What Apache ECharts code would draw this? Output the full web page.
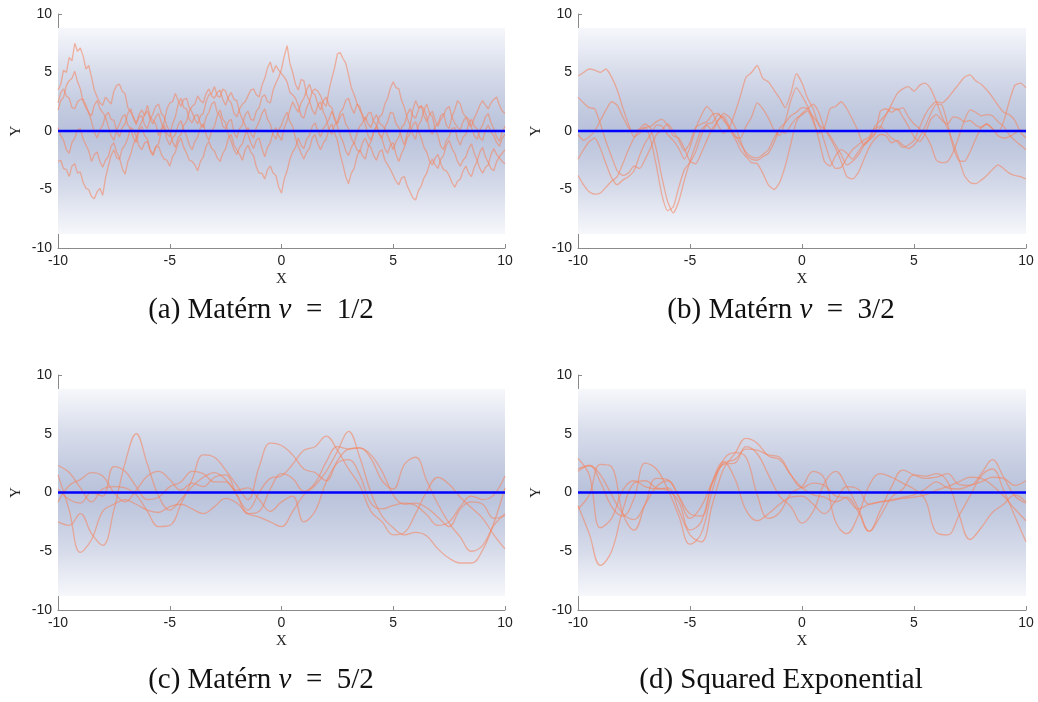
<!DOCTYPE html>
<html>
<head>
<meta charset="utf-8">
<script src="https://cdn.jsdelivr.net/npm/echarts@6/dist/echarts.min.js"></script>
<style>html,body{margin:0;padding:0;background:#fff}#c{width:1038px;height:702px}</style>
</head>
<body>
<div id="c"></div>
<script>
// ---------- data ----------
const X_TICKS = [-10, -5, 0, 5, 10];
const Y_TICKS = [-10, -5, 0, 5, 10];
const CAPTIONS = ['(a) Matérn {i|ν}\u2002=\u20021/2', '(b) Matérn {i|ν}\u2002=\u20023/2', '(c) Matérn {i|ν}\u2002=\u20025/2', '(d) Squared Exponential'];
const MEAN_X = [-10, 10];
const MEAN_Y = [0, 0];
const BAND_HI = 8.8;
const BAND_LO = -8.8;

const X_A = [
  -10,-9.875,-9.75,-9.625,-9.5,-9.375,-9.25,-9.125,-9,-8.875,-8.75,-8.625,-8.5,-8.375,-8.25,-8.125,
  -8,-7.875,-7.75,-7.625,-7.5,-7.375,-7.25,-7.125,-7,-6.875,-6.75,-6.625,-6.5,-6.375,-6.25,-6.125,
  -6,-5.875,-5.75,-5.625,-5.5,-5.375,-5.25,-5.125,-5,-4.875,-4.75,-4.625,-4.5,-4.375,-4.25,-4.125,
  -4,-3.875,-3.75,-3.625,-3.5,-3.375,-3.25,-3.125,-3,-2.875,-2.75,-2.625,-2.5,-2.375,-2.25,-2.125,
  -2,-1.875,-1.75,-1.625,-1.5,-1.375,-1.25,-1.125,-1,-0.875,-0.75,-0.625,-0.5,-0.375,-0.25,-0.125,
  0,0.125,0.25,0.375,0.5,0.625,0.75,0.875,1,1.125,1.25,1.375,1.5,1.625,1.75,1.875,
  2,2.125,2.25,2.375,2.5,2.625,2.75,2.875,3,3.125,3.25,3.375,3.5,3.625,3.75,3.875,
  4,4.125,4.25,4.375,4.5,4.625,4.75,4.875,5,5.125,5.25,5.375,5.5,5.625,5.75,5.875,
  6,6.125,6.25,6.375,6.5,6.625,6.75,6.875,7,7.125,7.25,7.375,7.5,7.625,7.75,7.875,
  8,8.125,8.25,8.375,8.5,8.625,8.75,8.875,9,9.125,9.25,9.375,9.5,9.625,9.75,9.875,
  10];
const X_FINE = [
  -10,-9.75,-9.5,-9.25,-9,-8.75,-8.5,-8.25,
  -8,-7.75,-7.5,-7.25,-7,-6.75,-6.5,-6.25,
  -6,-5.75,-5.5,-5.25,-5,-4.75,-4.5,-4.25,
  -4,-3.75,-3.5,-3.25,-3,-2.75,-2.5,-2.25,
  -2,-1.75,-1.5,-1.25,-1,-0.75,-0.5,-0.25,
  0,0.25,0.5,0.75,1,1.25,1.5,1.75,
  2,2.25,2.5,2.75,3,3.25,3.5,3.75,
  4,4.25,4.5,4.75,5,5.25,5.5,5.75,
  6,6.25,6.5,6.75,7,7.25,7.5,7.75,
  8,8.25,8.5,8.75,9,9.25,9.5,9.75,
  10];
const X_COARSE = [
  -10,-9.5,-9,-8.5,-8,-7.5,-7,-6.5,-6,-5.5,
  -5,-4.5,-4,-3.5,-3,-2.5,-2,-1.5,-1,-0.5,
  0,0.5,1,1.5,2,2.5,3,3.5,4,4.5,
  5,5.5,6,6.5,7,7.5,8,8.5,9,9.5,
  10];

// (a) Matern 1/2 samples
const A1 = [
  3.5,4.0,5.2,5.0,6.3,6.0,7.5,6.8,7.1,6.4,5.3,5.6,4.6,3.5,2.9,2.4,
  2.2,2.9,2.6,2.3,3.4,3.9,4.0,3.4,3.2,2.0,1.6,1.2,0.5,1.4,1.8,1.3,
  2.2,1.2,0.9,0.6,-0.4,0.2,0.8,1.9,2.4,2.5,3.2,2.6,2.1,2.7,2.8,2.0,
  1.6,1.0,0.6,1.3,1.5,2.5,3.1,3.2,3.8,3.0,2.9,3.6,3.4,2.7,2.4,1.5,
  1.2,1.9,2.3,2.5,3.0,3.5,3.6,3.1,2.9,3.9,4.5,5.4,5.9,5.0,5.6,5.2,
  4.9,4.6,4.2,3.3,3.1,2.8,2.2,1.3,1.1,2.0,2.5,3.4,3.6,3.4,3.0,2.4,
  2.1,3.5,4.5,5.4,6.6,6.7,6.2,5.8,4.8,3.7,3.1,2.4,1.8,1.4,0.9,1.5,
  1.6,0.8,0.5,-0.2,-0.6,0.3,0.8,1.6,1.5,0.6,0.3,-0.6,-1.2,-0.2,0.4,1.8,
  2.6,2.0,2.1,1.9,1.2,0.1,-0.3,0.4,0.6,1.3,1.5,0.5,0.2,1.2,1.8,2.6,
  2.3,1.5,1.2,1.0,0.4,1.1,1.6,2.2,2.6,2.2,1.9,2.4,2.7,2.9,2.2,1.7,
  1.5];
const A2 = [
  2.4,3.3,3.6,3.0,2.8,2.0,1.9,2.5,2.7,2.7,2.2,1.5,1.3,2.2,2.6,1.9,
  1.6,1.2,0.4,-0.4,-0.8,0.1,0.6,1.2,1.4,0.5,0.2,-0.6,-1.0,0.0,0.4,-0.4,
  -0.7,-1.6,-2.0,-1.3,-1.1,0.0,0.5,-0.2,-0.5,0.6,1.2,2.3,2.8,2.0,1.9,1.0,
  0.7,1.3,1.4,0.6,0.3,1.2,1.6,2.3,2.5,1.6,1.3,0.4,0.2,0.8,1.0,-0.1,
  -0.6,0.2,0.5,1.4,1.7,1.0,0.9,1.7,2.0,2.9,3.1,2.5,2.4,3.5,4.1,4.6,
  5.3,6.4,7.3,5.8,5.0,4.0,3.5,4.4,4.3,3.1,2.6,1.8,1.4,2.2,2.5,1.6,
  1.1,0.1,-0.3,0.5,0.8,1.6,1.9,2.6,2.8,2.0,1.5,2.3,2.1,1.2,0.6,-0.4,
  -0.8,-0.1,0.4,1.2,1.4,2.3,2.8,3.7,4.2,3.7,3.6,2.6,2.0,1.1,0.5,-0.3,
  -0.7,0.5,0.9,1.8,2.3,1.5,1.2,0.2,-0.4,-1.3,-1.6,-0.8,-0.5,0.2,0.3,-0.7,
  -1.2,-0.5,-0.3,0.6,1.0,0.4,0.2,-0.6,-0.8,0.1,0.5,-0.1,-0.4,-1.0,-1.3,-0.6,
  -0.3];
const A3 = [
  -2.6,-2.5,-3.2,-3.3,-3.9,-3.0,-2.8,-3.6,-3.5,-4.4,-4.9,-5.0,-5.6,-5.8,-5.2,-4.9,
  -5.5,-4.0,-3.0,-2.1,-1.6,-2.3,-2.4,-1.5,-1.2,-0.6,0.3,0.1,-0.5,-1.3,-1.6,-1.0,
  -0.9,-1.7,-2.1,-1.4,-1.3,-2.0,-2.4,-2.5,-3.0,-2.2,-1.8,-1.0,-0.6,-1.4,-1.9,-2.5,
  -2.6,-2.9,-3.4,-2.6,-2.2,-1.3,-0.9,-1.5,-1.7,-2.3,-2.6,-1.9,-1.5,-0.6,-0.3,-1.2,
  -1.6,-2.0,-2.5,-1.6,-1.2,-1.8,-2.1,-3.1,-3.6,-3.6,-4.1,-3.3,-3.0,-3.6,-3.8,-4.8,
  -5.3,-4.1,-3.4,-2.4,-1.8,-1.4,-0.6,-1.2,-1.5,-0.7,-0.4,0.4,0.7,0.0,-0.5,0.2,
  0.6,1.0,1.7,1.0,0.4,-0.4,-0.9,-1.7,-2.1,-1.4,-1.0,-1.6,-1.8,-1.0,-0.6,-1.2,
  -1.4,-2.1,-2.5,-1.8,-1.6,-2.5,-2.9,-3.3,-3.8,-4.3,-4.6,-4.0,-3.9,-4.7,-5.2,-5.7,
  -5.9,-5.1,-4.7,-4.0,-3.6,-2.8,-2.4,-2.9,-3.2,-2.4,-2.1,-1.2,-0.8,-1.5,-1.9,-2.6,
  -3.0,-2.5,-2.2,-1.5,-1.1,-1.9,-2.5,-3.2,-3.6,-3.1,-2.9,-2.0,-1.5,-2.0,-2.3,-2.6,
  -2.8];
const A4 = [
  0.3,-0.4,-0.8,-1.6,-1.9,-1.0,-0.6,0.1,0.2,-0.7,-1.2,-1.7,-2.6,-2.0,-1.8,-2.6,
  -3.1,-2.5,-2.2,-1.3,-1.0,-1.8,-2.3,-3.2,-3.7,-2.6,-2.0,-1.1,-0.6,0.3,0.8,1.4,
  1.7,1.0,0.6,1.2,1.5,0.7,0.2,-0.7,-1.2,-0.6,-0.3,0.5,0.9,0.1,-0.4,-1.2,
  -1.6,-0.9,-0.5,0.3,0.6,-0.3,-0.8,0.0,0.4,1.3,1.8,1.0,0.7,-0.3,-0.9,-1.6,
  -2.0,-1.4,-1.1,-0.3,0.3,-0.2,-0.6,0.3,0.8,1.5,1.9,1.0,0.6,-0.3,-0.7,0.1,
  0.5,1.2,1.6,0.8,0.4,-0.6,-1.3,-1.9,-2.4,-1.8,-1.5,-0.6,-0.3,-1.1,-1.6,-1.0,
  -0.7,0.2,0.6,-0.2,-0.8,-2.0,-2.9,-3.9,-4.5,-3.6,-3.2,-2.2,-1.6,-2.1,-2.4,-1.4,
  -0.9,-0.1,0.4,-0.3,-0.7,-1.5,-1.9,-1.2,-1.0,-2.0,-2.6,-1.9,-1.4,-0.6,-0.2,0.5,
  0.8,0.0,-0.6,-1.4,-1.8,-2.6,-2.9,-2.3,-2.0,-2.8,-3.3,-3.4,-3.8,-4.4,-4.8,-4.3,
  -4.1,-3.4,-3.0,-3.6,-3.9,-3.1,-2.6,-1.8,-1.4,-2.2,-2.7,-3.2,-3.4,-2.6,-2.2,-1.9,
  -1.6];
const A5 = [
  1.8,2.6,2.9,3.9,4.3,4.5,5.1,4.2,3.6,2.5,2.0,1.6,0.8,-0.1,-0.6,0.1,
  0.5,1.3,1.6,1.0,0.9,0.0,-0.5,0.3,0.6,1.5,1.9,1.1,0.7,1.2,1.3,0.5,
  0.2,1.0,1.5,2.1,2.3,1.5,1.2,0.4,0.0,-0.9,-1.4,-0.6,-0.3,0.5,0.8,1.7,
  2.1,2.3,3.0,2.6,2.4,3.2,3.6,3.0,2.8,3.3,3.5,2.7,2.2,2.9,3.3,2.7,
  2.6,1.6,1.0,0.5,-0.3,-1.0,-1.5,-0.8,-0.6,-1.5,-2.2,-1.4,-1.0,-0.1,0.3,-0.4,
  -0.8,0.3,0.9,1.8,2.5,2.0,1.6,2.4,2.8,3.5,4.0,3.3,3.1,2.3,1.8,2.6,
  2.9,2.2,2.0,1.1,0.6,1.2,1.5,0.6,0.2,-0.6,-1.1,-0.2,0.4,0.7,1.2,0.6,
  0.3,1.0,1.4,0.7,0.5,0.2,-0.4,-1.0,-1.6,-0.9,-0.5,0.3,0.6,1.4,1.9,1.3,
  1.1,1.8,2.2,1.3,0.8,1.4,1.7,0.9,0.4,1.0,1.3,1.9,2.1,1.2,0.7,0.3,
  0.1,0.8,1.2,0.6,0.3,-0.4,-0.7,0.1,0.5,1.2,1.5,0.7,0.2,-0.5,-0.9,-0.1,
  0.4];

// (b) Matern 3/2 samples
const B1 = [4.7,5.0,5.3,5.2,5.0,5.3,4.6,3.5, 2.0,0.6,-0.5,-0.2,0.3,0.4,0.8,1.0, 0.5,-0.4,-0.6,-1.5,-2.6,-2.8,-1.9,-0.8, 0.2,0.9,1.5,1.2,0.4,-0.8,-2.0,-2.4, -2.5,-2.2,-1.9,-1.0,0.2,0.7,1.3,1.6, 2.0,1.9,1.2,0.6,-0.9,-2.4,-3.2,-3.1, -2.3,-1.6,-1.2,-0.8,-0.5,0.4,0.9,1.4, 2.3,3.2,3.6,3.8,3.4,3.9,4.1,3.6, 2.5,1.2,0.2,-1.0,-2.4,-3.8,-4.4,-4.5, -4.2,-3.8,-3.3,-2.9,-3.2,-3.6,-3.8,-3.9, -4.1];
const B2 = [-2.4,-1.6,-0.9,-0.6,-1.5,-2.8,-4.0,-4.6, -4.2,-3.9,-3.4,-2.1,-1.0,-0.3,0.5,0.4, -0.3,-0.8,-1.5,-2.4,-1.4,0.2,1.3,2.1, 1.6,0.5,-0.2,0.3,1.5,3.0,4.6,5.0, 5.6,4.5,4.2,3.5,2.8,2.0,3.2,4.9, 4.1,2.8,1.9,0.5,0.2,-0.6,-1.5,-2.6, -3.9,-4.1,-3.6,-2.5,-1.4,-0.7,-0.3,-0.4, -1.0,-0.8,-1.2,-1.5,-1.2,-0.5,0.4,1.5, 2.3,2.2,0.6,-1.4,-2.5,-2.6,-1.8,-0.7, 0.3,0.6,0.2,-0.1,0.8,2.5,3.9,4.1, 3.7];
const B3 = [2.9,2.4,2.0,1.9,0.6,-0.9,-2.2,-3.4, -3.8,-3.6,-3.0,-3.2,-2.4,-1.4,-0.3,0.1, 0.6,0.0,-0.8,-1.7,-1.0,0.3,0.6,0.8, 1.4,1.5,0.9,0.3,-0.6,-1.6,-2.2,-2.7, -2.8,-3.6,-4.6,-5.0,-4.4,-3.0,-1.1,0.8, 1.5,1.9,2.3,1.6,0.2,-0.4,-1.2,-2.0, -2.9,-2.6,-2.1,-1.3,-0.7,-0.2,0.3,1.4, 2.0,1.8,2.0,1.2,0.6,0.2,-0.3,-1.2, -2.5,-2.7,-2.6,-1.8,-0.5,0.9,1.8,1.6, 1.3,1.4,1.3,0.8,0.4,-0.3,-0.8,-1.2, -1.6];
const B4 = [-3.8,-4.6,-5.2,-5.4,-5.3,-4.8,-4.3,-3.9, -2.8,-1.6,-0.6,0.1,0.3,-0.8,-3.0,-5.5, -6.8,-6.5,-4.8,-3.3,-2.7,-1.8,-0.4,0.6, 0.7,1.4,1.1,0.2,-0.5,-0.6,0.4,1.2, 2.4,1.9,1.1,0.1,-0.4,0.8,2.6,3.7, 3.0,2.1,1.0,-0.7,-2.6,-3.0,-2.1,-1.6, -1.9,-2.4,-1.8,-1.1,-0.7,0.2,0.4,-0.1, -0.6,-0.9,-1.4,-1.2,-0.8,0.3,1.4,2.1, 2.5,2.4,2.8,3.4,4.0,4.6,4.8,4.3, 4.0,3.5,2.9,2.2,1.6,1.4,0.9,-0.1, -0.6];
const B5 = [-0.3,-0.8,-0.5,0.0,0.9,1.8,2.5,2.2, 1.2,0.3,-0.1,0.2,0.6,0.2,-1.6,-4.0, -6.0,-7.0,-6.0,-4.2,-2.6,-1.2,0.1,0.5, 0.0,0.9,1.3,0.4,-0.3,-1.1,-1.8,-2.2, -2.3,-2.0,-1.6,-0.6,0.0,-0.2,0.5,1.1, 1.4,1.7,0.8,-0.2,0.3,1.9,2.1,2.5, 1.9,1.0,0.0,-1.2,-0.8,-0.3,1.7,1.9, 1.6,1.9,1.2,0.4,-0.5,-0.9,-0.2,1.0, 1.4,0.9,0.6,1.2,1.1,0.8,0.9,0.5, 0.3,0.6,0.2,-0.4,-0.6,-0.5,-0.2,0.1, -0.1];

// (c) Matern 5/2 samples
const C1 = [-2.5,-2.8,-1.8,-3.5,-4.5,-1.5,2.5,5.0,2.4,-0.3, -1.5,-0.6,0.5,1.3,1.7,1.1,-0.2,-1.8,-1.6,0.3, 1.6,1.2,0.1,0.8,2.6,3.9,3.7,3.8,3.2,1.8, -0.2,-1.0,-0.9,-1.3,-2.1,-2.9,-1.4,-0.8,-1.0,-2.2, -2.0];
const C2 = [1.5,-1.5,-5.1,-4.0,-1.6,-1.0,-0.6,-1.0,-1.5,-1.7, -1.2,-1.0,-1.4,-1.8,-1.2,-0.5,-0.9,-1.8,-2.1,-2.5, -2.9,-1.6,-0.2,0.6,1.8,3.5,5.2,3.0,0.0,-2.0, -3.0,-3.6,-3.4,-3.7,-4.8,-5.6,-6.0,-6.0,-4.9,-2.6, 0.4];
const C3 = [2.3,1.7,0.4,-0.8,0.3,0.5,0.4,-0.2,-1.6,-2.9, -2.8,-1.0,1.1,3.2,3.0,1.9,0.6,-0.6,2.2,4.2, 4.0,3.2,2.0,1.7,1.0,2.7,3.7,3.8,2.9,1.0, 0.3,2.4,3.0,1.0,-1.0,-2.6,-3.8,-5.0,-4.5,-2.8, -1.8];
const C4 = [-0.8,0.6,1.1,1.7,1.4,0.0,-0.8,0.2,1.4,1.8, 1.1,0.2,0.8,0.5,1.3,1.5,-0.2,-1.5,0.0,1.2, 1.4,2.4,3.6,3.9,4.8,3.6,2.0,0.6,-1.6,-2.5, -3.6,-3.4,-1.8,0.1,1.3,0.7,-0.4,-1.3,-2.2,-3.6, -4.8];
const C5 = [0.3,-0.6,-0.9,0.0,-0.3,2.2,1.8,0.5,-0.6,-0.4, 0.5,0.9,1.8,1.6,0.9,0.9,0.2,0.4,-0.6,-1.6, -0.8,-0.3,-2.5,-1.6,0.9,2.5,2.8,1.5,-0.9,-1.4, -1.1,-0.9,-1.1,-1.9,-2.8,-2.5,-1.2,-0.3,-0.6,-0.2, 1.4];

// (d) Squared exponential samples
const D1 = [-1.1,-3.5,-6.2,-5.0,-1.5,0.8,1.0,0.4,0.2,-0.8, -3.2,-2.5,0.9,2.6,1.2,-1.5,-2.4,-1.8,-1.0,-0.4, -0.3,-1.0,-1.8,-0.7,0.5,0.3,-1.0,-0.8,-0.6,-0.5, -0.4,-0.2,0.2,0.5,0.9,1.3,1.2,0.6,-0.3,-1.4, -2.4];
const D2 = [2.9,1.5,-3.0,-2.2,0.2,1.0,0.5,0.3,0.4,-1.5, -3.6,-4.2,-1.0,2.0,3.3,4.6,4.2,3.1,2.8,1.5, 0.4,0.8,0.6,-0.3,-0.5,-1.4,-1.0,-0.8,-0.7,-0.4, -0.2,0.3,0.9,0.4,0.3,0.6,0.9,1.3,1.2,0.6, 1.0];
const D3 = [1.8,2.3,1.5,-0.2,-1.8,-2.3,-1.0,0.5,1.0,-0.3, -1.8,-2.0,0.8,2.5,2.8,3.7,3.6,3.2,3.0,1.5, 0.4,-0.2,-0.4,-0.8,-0.4,-1.6,-3.3,-2.0,-0.4,0.3, 1.5,1.4,1.6,0.9,-1.8,-4.0,-3.0,-1.7,-1.0,-0.2, -0.8];
const D4 = [-1.4,-0.2,2.4,2.2,-1.8,-3.2,-1.0,1.2,1.1,-0.4, -2.2,-1.2,0.9,2.4,2.5,3.9,3.3,1.5,-0.3,-1.2, -2.6,-1.6,0.8,1.8,0.5,-1.3,-3.3,-1.5,0.5,1.9, 1.5,1.2,1.3,1.6,0.7,0.6,1.6,2.8,1.3,-0.3, -0.9];
const D5 = [2.0,2.3,0.9,-1.2,-2.0,-0.5,2.5,2.0,0.3,-2.0, -4.4,-3.5,0.2,2.8,3.4,3.0,-0.2,-2.2,-1.7,-0.1, 0.5,1.8,1.2,-2.5,-3.5,-2.0,0.6,1.6,1.3,0.8, 0.3,-0.6,-3.4,-3.6,-2.0,-0.3,1.4,2.0,0.2,-2.0, -4.2];

const PANELS = [
  { xs: X_A, samples: [A1, A2, A3, A4, A5], smooth: false },
  { xs: X_FINE, samples: [B1, B2, B3, B4, B5], smooth: 0.2 },
  { xs: X_COARSE, samples: [C1, C2, C3, C4, C5], smooth: 0.4 },
  { xs: X_COARSE, samples: [D1, D2, D3, D4, D5], smooth: 0.4 }
];

// ---------- layout / style ----------
const GRIDS = [
  { left: 58, top: 14, width: 447, height: 234 },
  { left: 578, top: 14, width: 448, height: 234 },
  { left: 58, top: 375, width: 447, height: 235 },
  { left: 578, top: 375, width: 448, height: 235 }
];
const CAPTION_POS = [[261, 310], [781, 310], [261, 680], [781, 680]];
const AXIS_COLOR = '#8a8a8a';
const LABEL_COLOR = '#222';
const SAMPLE_COLOR = 'rgba(245,132,96,0.58)';
const MEAN_COLOR = '#0000ff';

const bandGradient = {
  type: 'linear', x: 0, y: 0, x2: 0, y2: 1,
  colorStops: [
    { offset: 0.0, color: '#f6f7fb' },
    { offset: 0.1, color: '#e8ebf4' },
    { offset: 0.22, color: '#d6dbea' },
    { offset: 0.35, color: '#c7cee2' },
    { offset: 0.5, color: '#b8c2da' },
    { offset: 0.65, color: '#c7cee2' },
    { offset: 0.78, color: '#d6dbea' },
    { offset: 0.9, color: '#e8ebf4' },
    { offset: 1.0, color: '#f6f7fb' }
  ]
};

const pair = (xs, ys) => xs.map((x, i) => [x, ys[i]]);

const xAxes = [], yAxes = [], series = [], graphics = [];
GRIDS.forEach((g, k) => {
  xAxes.push({
    gridIndex: k, type: 'value', min: X_TICKS[0], max: X_TICKS[X_TICKS.length - 1],
    interval: X_TICKS[1] - X_TICKS[0],
    axisLine: { show: true, onZero: false, lineStyle: { color: AXIS_COLOR, width: 1 } },
    axisTick: { show: true, inside: true, length: 4, lineStyle: { color: AXIS_COLOR } },
    axisLabel: { color: LABEL_COLOR, fontSize: 14, fontFamily: 'Liberation Sans', margin: 6 },
    splitLine: { show: false },
    name: 'X', nameLocation: 'middle', nameGap: 24,
    nameTextStyle: { fontFamily: 'Liberation Serif', fontSize: 15, color: LABEL_COLOR }
  });
  yAxes.push({
    gridIndex: k, type: 'value', min: Y_TICKS[0], max: Y_TICKS[Y_TICKS.length - 1],
    interval: Y_TICKS[1] - Y_TICKS[0],
    axisLine: { show: true, onZero: false, lineStyle: { color: AXIS_COLOR, width: 1 } },
    axisTick: { show: true, inside: true, length: 4, lineStyle: { color: AXIS_COLOR } },
    axisLabel: { color: LABEL_COLOR, fontSize: 14, fontFamily: 'Liberation Sans', margin: 6 },
    splitLine: { show: false },
    name: 'Y', nameLocation: 'middle', nameGap: 34, nameRotate: 90,
    nameTextStyle: { fontFamily: 'Liberation Serif', fontSize: 15, color: LABEL_COLOR }
  });
  const p = PANELS[k];
  series.push({
    type: 'line', xAxisIndex: k, yAxisIndex: k, silent: true, z: 1,
    data: pair(MEAN_X, MEAN_Y), symbol: 'none', lineStyle: { opacity: 0 },
    markArea: {
      silent: true,
      itemStyle: { color: bandGradient },
      data: [[{ xAxis: MEAN_X[0], yAxis: BAND_HI }, { xAxis: MEAN_X[1], yAxis: BAND_LO }]]
    }
  });
  p.samples.forEach(s => {
    series.push({
      type: 'line', xAxisIndex: k, yAxisIndex: k, silent: true, z: 3,
      data: pair(p.xs, s), symbol: 'none', smooth: p.smooth,
      lineStyle: { color: SAMPLE_COLOR, width: 1.3 }
    });
  });
  series.push({
    type: 'line', xAxisIndex: k, yAxisIndex: k, silent: true, z: 5,
    data: pair(MEAN_X, MEAN_Y), symbol: 'none',
    lineStyle: { color: MEAN_COLOR, width: 2.5 }
  });
  graphics.push({
    type: 'text', x: CAPTION_POS[k][0], y: CAPTION_POS[k][1],
    style: {
      text: CAPTIONS[k], fill: '#111',
      font: '29px "Liberation Serif"',
      textAlign: 'center', textVerticalAlign: 'middle',
      rich: { i: { fontStyle: 'italic', fontSize: 29, fontFamily: 'Liberation Serif', fill: '#111' } }
    }
  });
});

const chart = echarts.init(document.getElementById('c'), null, { renderer: 'canvas' });
chart.setOption({
  animation: false,
  backgroundColor: '#ffffff',
  grid: GRIDS,
  xAxis: xAxes,
  yAxis: yAxes,
  series: series,
  graphic: graphics
});
</script>
</body>
</html>
